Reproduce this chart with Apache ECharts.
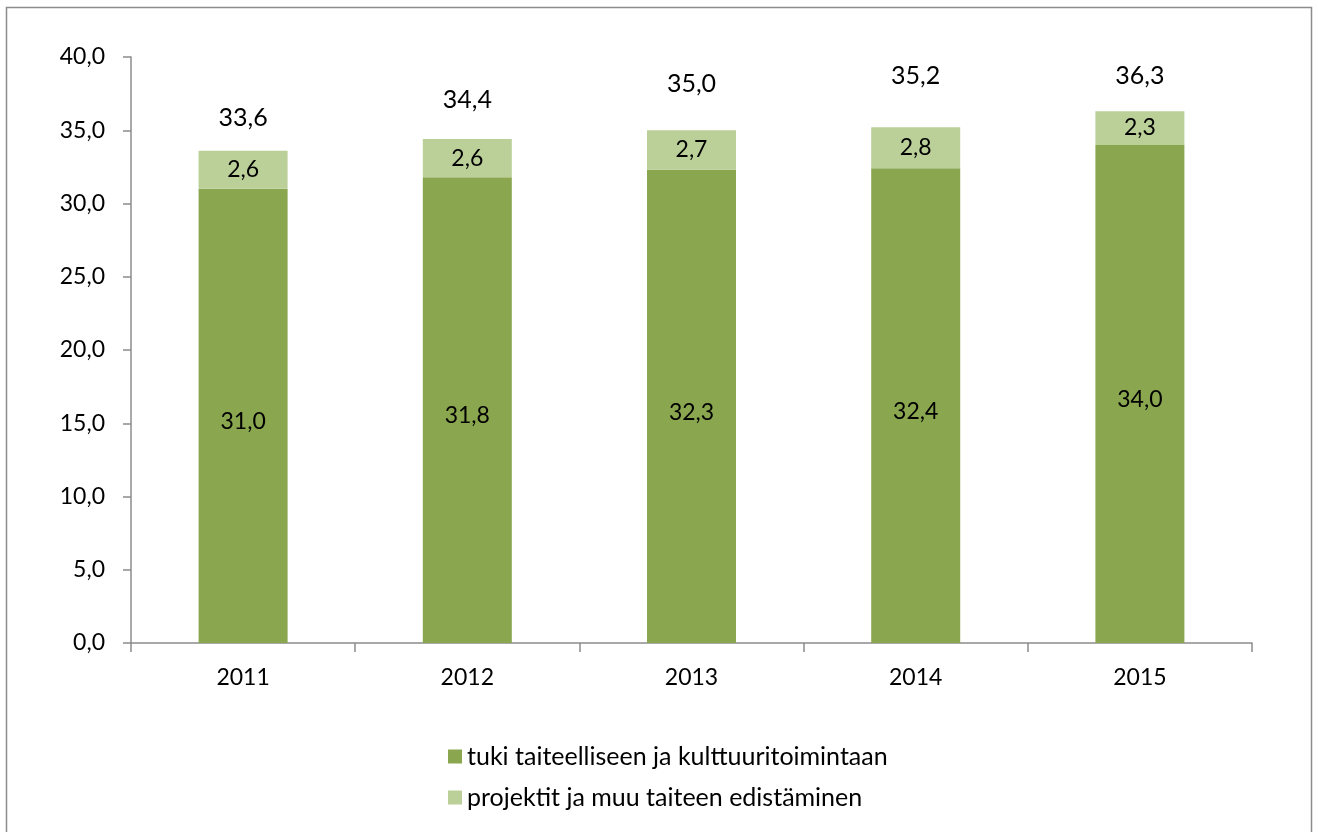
<!DOCTYPE html>
<html>
<head>
<meta charset="utf-8">
<script src="https://cdn.jsdelivr.net/npm/echarts@6/dist/echarts.min.js"></script>
<style>
  html, body { margin: 0; padding: 0; background: #fff; }
  #chart { width: 1318px; height: 832px; }
</style>
</head>
<body>
<div id="chart"></div>
<script>
// data
const years = ["2011", "2012", "2013", "2014", "2015"];
const tuki = [31.0, 31.8, 32.3, 32.4, 34.0];
const projektit = [2.6, 2.6, 2.7, 2.8, 2.3];
const totals = [33.6, 34.4, 35.0, 35.2, 36.3];
const seriesNames = ["tuki taiteelliseen ja kulttuuritoimintaan", "projektit ja muu taiteen edistäminen"];

const fontFamily = "Lato, 'Open Sans', sans-serif";
const fmt = (v) => v.toFixed(1).replace(".", ",");
// the total labels were placed by hand in the original, so lift them a bit differently
const totalLift = [20, 26, 33, 38, 22];

const myChart = echarts.init(document.getElementById("chart"));

const options = {
  animation: false,
  textStyle: { fontFamily: fontFamily, color: "#000" },
  graphic: [
    {
      type: "rect",
      shape: { x: 6.5, y: 7.5, width: 1305, height: 840 },
      style: { fill: "none", stroke: "#8c8c8c", lineWidth: 1.5 },
      silent: true,
    },
  ],
  grid: { left: 131, right: 66, top: 57, bottom: 189 },
  legend: {
    orient: "vertical",
    left: 443,
    top: 739,
    itemWidth: 14,
    itemHeight: 14,
    itemGap: 16,
    icon: "rect",
    textStyle: { fontSize: 25, color: "#000", fontFamily: fontFamily },
    data: seriesNames,
  },
  xAxis: {
    type: "category",
    data: years,
    axisLine: { lineStyle: { color: "#8c8c8c", width: 1.5 } },
    axisTick: { show: true, length: 9, lineStyle: { color: "#8c8c8c", width: 1.5 } },
    axisLabel: { fontSize: 23, color: "#000", margin: 23 },
  },
  yAxis: {
    type: "value",
    min: 0,
    max: 40,
    interval: 5,
    splitLine: { show: false },
    axisLine: { show: true, lineStyle: { color: "#8c8c8c", width: 1.5 } },
    axisTick: { show: true, length: 8, lineStyle: { color: "#8c8c8c", width: 1.5 } },
    axisLabel: { fontSize: 23, color: "#000", margin: 26, formatter: fmt },
  },
  series: [
    {
      name: seriesNames[0],
      type: "bar",
      stack: "total",
      barWidth: "39.7%",
      data: tuki,
      itemStyle: { color: "#8aa64f" },
      label: {
        show: true,
        position: "inside",
        offset: [0, 6],
        fontSize: 23,
        color: "#000",
        formatter: (p) => fmt(p.value),
      },
    },
    {
      name: seriesNames[1],
      type: "bar",
      stack: "total",
      data: projektit,
      itemStyle: { color: "#bbcf99" },
      label: {
        show: true,
        position: "inside",
        fontSize: 23,
        color: "#000",
        formatter: (p) => fmt(p.value),
      },
    },
    {
      name: "yhteensä",
      type: "scatter",
      data: totals.map((v, i) => ({
        value: v,
        label: { distance: totalLift[i] },
      })),
      symbolSize: 1,
      itemStyle: { color: "rgba(0,0,0,0)", opacity: 1 },
      silent: true,
      z: 5,
      label: {
        show: true,
        position: "top",
        fontSize: 25,
        color: "#000",
        formatter: (p) => fmt(p.value),
      },
    },
  ],
};

myChart.setOption(options);
</script>
</body>
</html>
